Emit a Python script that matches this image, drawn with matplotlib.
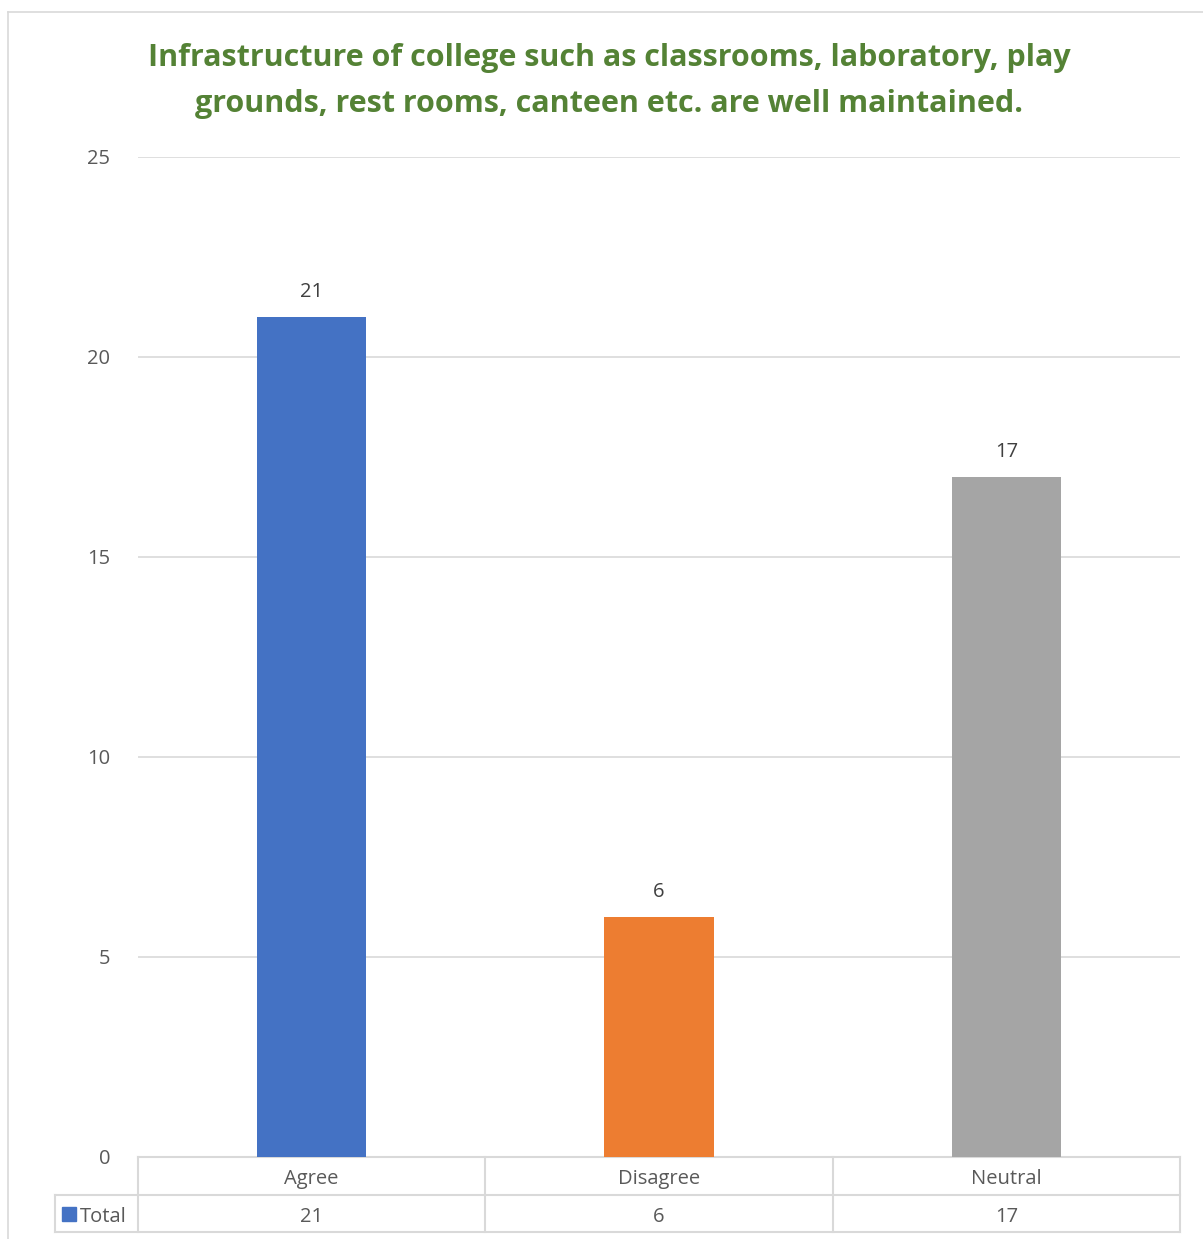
import matplotlib.pyplot as plt
from matplotlib.patches import Rectangle
from matplotlib.lines import Line2D

categories = ['Agree', 'Disagree', 'Neutral']
totals = [21, 6, 17]
series_name = 'Total'
colors = ['#4472C4', '#ED7D31', '#A5A5A5']
title = ('Infrastructure of college such as classrooms, laboratory, play\n'
         'grounds, rest rooms, canteen etc. are well maintained.')

plt.rcParams['font.family'] = ['Open Sans', 'DejaVu Sans']

W, H = 1203, 1239
fig = plt.figure(figsize=(W / 100, H / 100), dpi=100)

# chart border (left and top visible)
fig.add_artist(Line2D([8 / W, 8 / W], [0, 1 - 12 / H], color='#d9d9d9', lw=1.2))
fig.add_artist(Line2D([8 / W, 1], [1 - 12 / H, 1 - 12 / H], color='#d9d9d9', lw=1.2))

fig.text(609 / W, 1 - 81 / H, title, ha='center', va='center', fontsize=22,
         fontweight='bold', color='#548235', linespacing=1.68)

x0, x1 = 138, 1180
y_top, y_bot = 157, 1157
ax = fig.add_axes([x0 / W, 1 - y_bot / H, (x1 - x0) / W, (y_bot - y_top) / H])

fs = 14.5
pos = list(range(len(categories)))
ax.bar(pos, totals, width=0.314, color=colors, zorder=3)
for p, v in zip(pos, totals):
    ax.annotate(str(v), (p, v), xytext=(0, 18), textcoords='offset points',
                ha='center', va='center', fontsize=fs, color='#404040')

ax.set_xlim(-0.5, len(categories) - 0.5)
ax.set_ylim(0, 25)
ax.set_yticks(range(0, 26, 5))
ax.set_xticks([])
ax.tick_params(axis='y', length=0, labelsize=fs, labelcolor='#595959', pad=20)
ax.grid(axis='y', color='#d9d9d9', lw=1.2, zorder=0)
for s in ax.spines.values():
    s.set_visible(False)

# data table below the plot, in pixel -> data conversions
px_per_cat = (x1 - x0) / len(categories)
px_per_unit = (y_bot - y_top) / 25.0


def dx(px):
    return (px - x0) / px_per_cat - 0.5


def dy(py):
    return -(py - y_bot) / px_per_unit


line_kw = dict(color='#d9d9d9', lw=1.5, clip_on=False, zorder=1)
row1, row2 = 1195, 1232
ax.plot([dx(x0), dx(x1)], [dy(y_bot), dy(y_bot)], **line_kw)
ax.plot([dx(55), dx(x1)], [dy(row1), dy(row1)], **line_kw)
ax.plot([dx(55), dx(x1)], [dy(row2), dy(row2)], **line_kw)
ax.plot([dx(55), dx(55)], [dy(row1), dy(row2)], **line_kw)
for i in range(len(categories) + 1):
    xx = dx(x0 + i * px_per_cat)
    ax.plot([xx, xx], [dy(y_bot), dy(row2)], **line_kw)

for p, c, v in zip(pos, categories, totals):
    ax.text(p, dy((y_bot + row1) / 2 + 3), c, ha='center', va='center',
            fontsize=fs, color='#595959', clip_on=False)
    ax.text(p, dy((row1 + row2) / 2 + 3), str(v), ha='center', va='center',
            fontsize=fs, color='#595959', clip_on=False)

ax.add_patch(Rectangle((dx(62), dy(1221)), dx(76) - dx(62), dy(1207) - dy(1221),
                       color=colors[0], clip_on=False))
ax.text(dx(80), dy((row1 + row2) / 2 + 3), series_name, ha='left', va='center',
        fontsize=fs, color='#595959', clip_on=False)

fig.savefig('out.png', dpi=100)
